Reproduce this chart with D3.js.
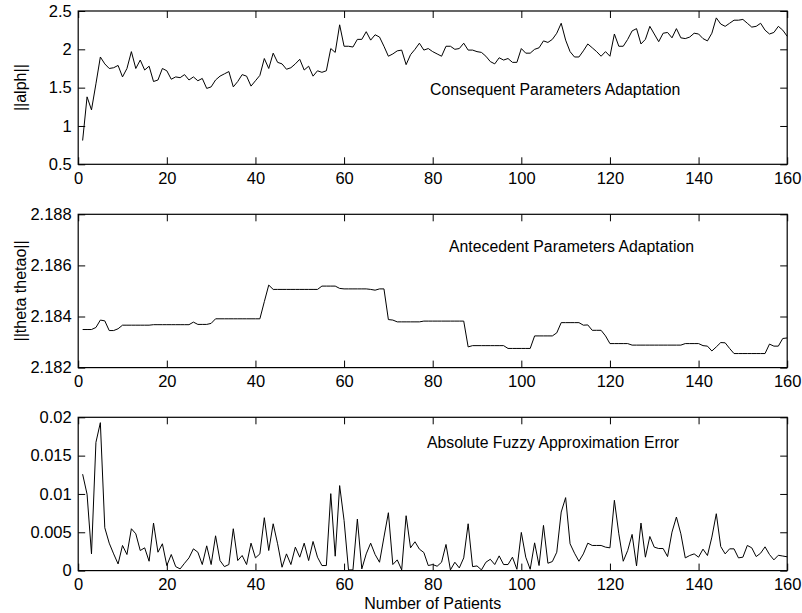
<!DOCTYPE html>
<html>
<head>
<meta charset="utf-8">
<script src="https://cdn.jsdelivr.net/npm/d3@7"></script>
<style>
body { margin: 0; background: #fff; }
svg text { font-family: "Liberation Sans", Arial, Helvetica, sans-serif; fill: #000; }
</style>
</head>
<body>
<svg id="chart" width="802" height="613"></svg>
<script>
// patient index 1..160
const patients = d3.range(1, 161);

const xTicks = [0, 20, 40, 60, 80, 100, 120, 140, 160];
const xTickLabels = ["0", "20", "40", "60", "80", "100", "120", "140", "160"];

// ||alph|| - consequent parameters
const alphValues = [
    0.81, 1.38, 1.21, 1.55, 1.90, 1.81, 1.75, 1.76, 1.79, 1.64,
    1.75, 1.97, 1.75, 1.86, 1.73, 1.78, 1.58, 1.60, 1.75, 1.72,
    1.61, 1.64, 1.63, 1.67, 1.60, 1.64, 1.59, 1.62, 1.49, 1.51,
    1.60, 1.65, 1.68, 1.71, 1.51, 1.58, 1.67, 1.65, 1.52, 1.59,
    1.66, 1.88, 1.75, 1.95, 1.83, 1.81, 1.74, 1.76, 1.81, 1.87,
    1.73, 1.78, 1.65, 1.72, 1.70, 1.72, 2.01, 1.96, 2.32, 2.04,
    2.04, 2.03, 2.13, 2.13, 2.23, 2.12, 2.19, 2.16, 2.04, 1.91,
    1.94, 1.98, 1.99, 1.80, 1.93, 2.00, 2.08, 1.99, 2.01, 1.97,
    1.94, 1.91, 2.04, 2.04, 2.00, 2.01, 2.08, 1.99, 1.99, 1.97,
    1.96, 1.91, 1.84, 1.81, 1.89, 1.86, 1.88, 1.83, 1.83, 2.01,
    1.95, 1.95, 2.00, 2.02, 2.11, 2.09, 2.13, 2.21, 2.34, 2.12,
    1.97, 1.90, 1.90, 1.98, 2.07, 2.02, 1.97, 1.91, 1.97, 1.91,
    2.20, 2.04, 2.04, 2.13, 2.24, 2.27, 2.07, 2.13, 2.30, 2.20,
    2.10, 2.21, 2.22, 2.15, 2.27, 2.15, 2.14, 2.16, 2.21, 2.20,
    2.14, 2.11, 2.21, 2.41, 2.33, 2.30, 2.34, 2.38, 2.38, 2.39,
    2.34, 2.29, 2.30, 2.34, 2.25, 2.20, 2.22, 2.30, 2.25, 2.17
];
const alphTicks = [0.5, 1, 1.5, 2, 2.5];
const alphTickLabels = ["0.5", "1", "1.5", "2", "2.5"];

// ||theta thetao|| - antecedent parameters
const thetaValues = [
    2.18349, 2.18349, 2.18349, 2.18357, 2.18386, 2.18383, 2.18345, 2.18345, 2.18352, 2.18366,
    2.18366, 2.18366, 2.18366, 2.18366, 2.18366, 2.18366, 2.18368, 2.18368, 2.18368, 2.18368,
    2.18368, 2.18368, 2.18368, 2.18368, 2.18368, 2.18378, 2.18369, 2.18369, 2.18369, 2.18373,
    2.18391, 2.18391, 2.18391, 2.18391, 2.18391, 2.18391, 2.18391, 2.18391, 2.18391, 2.18391,
    2.18391, 2.18458, 2.18523, 2.18506, 2.18506, 2.18506, 2.18506, 2.18506, 2.18506, 2.18506,
    2.18506, 2.18506, 2.18506, 2.18506, 2.18519, 2.18519, 2.18519, 2.18519, 2.18510, 2.18508,
    2.18508, 2.18508, 2.18508, 2.18508, 2.18508, 2.18506, 2.18503, 2.18508, 2.18508, 2.18388,
    2.18386, 2.18379, 2.18379, 2.18379, 2.18379, 2.18379, 2.18379, 2.18382, 2.18382, 2.18382,
    2.18382, 2.18382, 2.18382, 2.18382, 2.18382, 2.18382, 2.18382, 2.18281, 2.18286, 2.18286,
    2.18286, 2.18286, 2.18286, 2.18286, 2.18286, 2.18286, 2.18275, 2.18275, 2.18275, 2.18275,
    2.18275, 2.18275, 2.18324, 2.18324, 2.18324, 2.18324, 2.18324, 2.18336, 2.18376, 2.18376,
    2.18376, 2.18376, 2.18376, 2.18366, 2.18367, 2.18346, 2.18346, 2.18346, 2.18324, 2.18294,
    2.18294, 2.18294, 2.18294, 2.18294, 2.18288, 2.18288, 2.18288, 2.18288, 2.18288, 2.18288,
    2.18288, 2.18288, 2.18288, 2.18288, 2.18288, 2.18288, 2.18294, 2.18294, 2.18294, 2.18294,
    2.18286, 2.18284, 2.18265, 2.18281, 2.18298, 2.18297, 2.18275, 2.18255, 2.18255, 2.18255,
    2.18255, 2.18255, 2.18255, 2.18255, 2.18255, 2.18292, 2.18284, 2.18284, 2.18314, 2.18316
];
const thetaTicks = [2.182, 2.184, 2.186, 2.188];
const thetaTickLabels = ["2.182", "2.184", "2.186", "2.188"];

// absolute fuzzy approximation error
const errValues = [
    0.01258, 0.00996, 0.00218, 0.01673, 0.0193, 0.00559, 0.00358, 0.00218, 0.00087, 0.00328,
    0.0021, 0.00546, 0.0048, 0.00262, 0.00297, 0.00122, 0.0062, 0.0024, 0.0035, 0.00066,
    0.0021, 0.00052, 0.00022, 0.00096, 0.00166, 0.00284, 0.0024, 0.00079, 0.00323, 0.00079,
    0.00454, 0.00131, 0.00052, 0.00079, 0.00546, 0.00131, 0.00197, 0.00079, 0.00358, 0.00166,
    0.00218, 0.0069, 0.00262, 0.00611, 0.0035, 0.00044, 0.00218, 0.00079, 0.00306, 0.00175,
    0.00358, 0.00131, 0.0038, 0.00175, 0.00066, 0.00066, 0.01004, 0.00188, 0.01109, 0.00655,
    0.00009, 0.00009, 0.00672, 0.00022, 0.00218, 0.00358, 0.0021, 0.00109, 0.00437, 0.00755,
    0.00079, 0.0014, 0.00009, 0.00716, 0.00297, 0.00376, 0.0028, 0.00236, 0.00066, 0.00079,
    0.00057, 0.00109, 0.00341, 0.00009, 0.00109, 0.00035, 0.00166, 0.00611, 0.00052, 0.00061,
    0.00009, 0.00109, 0.00148, 0.00079, 0.00192, 0.00079, 0.00079, 0.00175, 0.00017, 0.00498,
    0.00175, 0.00017, 0.00362, 0.00066, 0.0059, 0.00096, 0.00118, 0.0024, 0.00764, 0.00952,
    0.0035, 0.00227, 0.00122, 0.00218, 0.00358, 0.00328, 0.00328, 0.00328, 0.00306, 0.00297,
    0.00917, 0.0048, 0.00122, 0.00262, 0.00472, 0.00061, 0.0062, 0.00175, 0.00445, 0.00306,
    0.00288, 0.00288, 0.00183, 0.00502, 0.00699, 0.0048, 0.00166, 0.00197, 0.00218, 0.00175,
    0.0028, 0.00197, 0.00437, 0.00742, 0.00314, 0.00218, 0.00284, 0.00284, 0.00166, 0.00175,
    0.00328, 0.00297, 0.00183, 0.00227, 0.0031, 0.0021, 0.0014, 0.002, 0.0019, 0.0018
];
const errTicks = [0, 0.005, 0.01, 0.015, 0.02];
const errTickLabels = ["0", "0.005", "0.01", "0.015", "0.02"];

const panels = [
    {values: alphValues, domain: [0.5, 2.5], ticks: alphTicks, labels: alphTickLabels,
     top: 11, ylabel: "||alph||", title: "Consequent Parameters Adaptation", tx: 430, ty: 95},
    {values: thetaValues, domain: [2.182, 2.188], ticks: thetaTicks, labels: thetaTickLabels,
     top: 214.3, ylabel: "||theta thetao||", title: "Antecedent Parameters Adaptation", tx: 449, ty: 252},
    {values: errValues, domain: [0, 0.02], ticks: errTicks, labels: errTickLabels,
     top: 417.3, ylabel: null, title: "Absolute Fuzzy Approximation Error", tx: 427, ty: 448}
];

const left = 78.2, right = 787.2, panelHeight = 153.3, tickLen = 7;
const fontStack = '"Liberation Sans", Arial, Helvetica, sans-serif';

const svg = d3.select("#chart");

const x = d3.scaleLinear().domain([0, 160]).range([left, right]);

panels.forEach((p) => {
    const y = d3.scaleLinear().domain(p.domain).range([p.top + panelHeight, p.top]);
    const g = svg.append("g");

    // line
    const line = d3.line()
        .x((d, i) => x(patients[i]))
        .y((d) => y(d));

    g.append("path")
        .datum(p.values)
        .attr("fill", "none")
        .attr("stroke", "#000")
        .attr("stroke-width", 1)
        .attr("stroke-linejoin", "round")
        .attr("d", line);

    // bottom axis with labels, ticks pointing in
    const bottom = g.append("g")
        .attr("transform", `translate(0,${p.top + panelHeight})`)
        .call(d3.axisBottom(x).tickValues(xTicks)
            .tickFormat((d, i) => xTickLabels[i])
            .tickSizeInner(-tickLen).tickSizeOuter(0).tickPadding(8));

    const topAx = g.append("g")
        .attr("transform", `translate(0,${p.top})`)
        .call(d3.axisTop(x).tickValues(xTicks).tickFormat("")
            .tickSizeInner(-tickLen).tickSizeOuter(0));

    const leftAx = g.append("g")
        .attr("transform", `translate(${left},0)`)
        .call(d3.axisLeft(y).tickValues(p.ticks)
            .tickFormat((d, i) => p.labels[i])
            .tickSizeInner(-tickLen).tickSizeOuter(0).tickPadding(6.5));

    const rightAx = g.append("g")
        .attr("transform", `translate(${right},0)`)
        .call(d3.axisRight(y).tickValues(p.ticks).tickFormat("")
            .tickSizeInner(-tickLen).tickSizeOuter(0));

    [bottom, topAx, leftAx, rightAx].forEach((a) => {
        a.select(".domain").remove();
        a.selectAll("line").attr("stroke", "#000");
        a.selectAll("text").attr("font-size", 16.5)
            .attr("font-family", fontStack)
            .attr("fill", "#000");
    });

    // box
    g.append("rect")
        .attr("x", left)
        .attr("y", p.top)
        .attr("width", right - left)
        .attr("height", panelHeight)
        .attr("fill", "none")
        .attr("stroke", "#000")
        .attr("stroke-width", 1.2);

    g.append("text")
        .attr("x", p.tx)
        .attr("y", p.ty)
        .attr("font-size", 15.8)
        .text(p.title);

    if (p.ylabel) {
        g.append("text")
            .attr("transform", `translate(26,${p.top + panelHeight / 2}) rotate(-90)`)
            .attr("text-anchor", "middle")
            .attr("font-size", 16)
            .text(p.ylabel);
    }
});

svg.append("text")
    .attr("x", (left + right) / 2)
    .attr("y", 609)
    .attr("text-anchor", "middle")
    .attr("font-size", 16)
    .text("Number of Patients");
</script>
</body>
</html>
